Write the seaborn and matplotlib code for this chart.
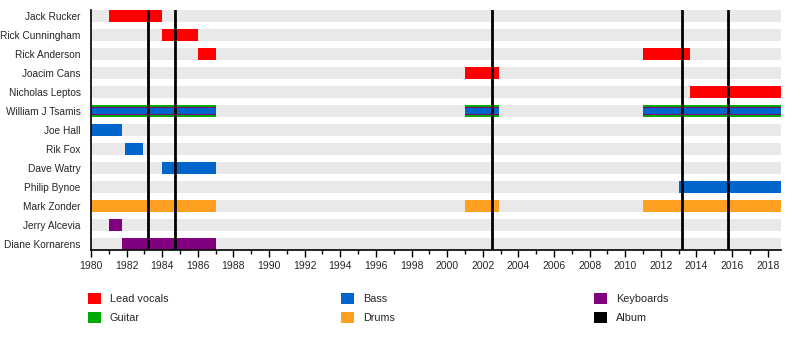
import matplotlib
matplotlib.use("Agg")
import matplotlib.pyplot as plt
import seaborn as sns
import pandas as pd
from matplotlib.patches import Patch

members = ["Jack Rucker", "Rick Cunningham", "Rick Anderson", "Joacim Cans",
           "Nicholas Leptos", "William J Tsamis", "Joe Hall", "Rik Fox",
           "Dave Watry", "Philip Bynoe", "Mark Zonder", "Jerry Alcevia",
           "Diane Kornarens"]

# (member, role, start, end)
seg_member = ["Jack Rucker", "Rick Cunningham", "Rick Anderson", "Rick Anderson",
              "Joacim Cans", "Nicholas Leptos",
              "William J Tsamis", "William J Tsamis", "William J Tsamis",
              "Joe Hall", "Rik Fox", "Dave Watry", "Philip Bynoe",
              "Mark Zonder", "Mark Zonder", "Mark Zonder",
              "Jerry Alcevia", "Diane Kornarens"]
seg_role = ["Lead vocals", "Lead vocals", "Lead vocals", "Lead vocals",
            "Lead vocals", "Lead vocals",
            "Guitar", "Guitar", "Guitar",
            "Bass", "Bass", "Bass", "Bass",
            "Drums", "Drums", "Drums",
            "Keyboards", "Keyboards"]
seg_start = [1981.0, 1984.0, 1986.0, 2011.0,
             2001.0, 2013.65,
             1980.0, 2001.0, 2011.0,
             1980.0, 1981.9, 1984.0, 2013.0,
             1980.0, 2001.0, 2011.0,
             1981.0, 1981.75]
seg_end = [1984.0, 1986.0, 1987.0, 2013.65,
           2002.9, 2018.75,
           1987.0, 2002.9, 2018.75,
           1981.75, 1982.9, 1987.0, 2018.75,
           1987.0, 2002.9, 2018.75,
           1981.75, 1987.0]

albums = [1983.2, 1984.7, 2002.5, 2013.2, 2015.8]

x_start, x_end = 1980, 2018.75

roles = ["Lead vocals", "Guitar", "Bass", "Drums", "Keyboards", "Album"]
role_colors = {"Lead vocals": "#ff0000", "Guitar": "#00aa00", "Bass": "#0066cc",
               "Drums": "#ffa020", "Keyboards": "#800080", "Album": "#000000"}

sns.set_theme(style="white")
plt.rcParams["font.family"] = ["Liberation Sans", "DejaVu Sans"]

fig = plt.figure(figsize=(8, 3.4), dpi=100)
ax = fig.add_axes([91/800, 1-250/340, 690/800, 240/340])

h = 0.64
bg = pd.DataFrame({"member": members, "end": [x_end]*len(members)})
sns.barplot(data=bg, y="member", x="end", orient="h", color="#e9e9e9",
            width=h, ax=ax, saturation=1, edgecolor="none")

ypos = {m: i for i, m in enumerate(members)}
segs = pd.DataFrame({"member": seg_member, "role": seg_role,
                     "start": seg_start, "end": seg_end})
for _, r in segs.iterrows():
    y = ypos[r.member]
    w = r.end - r.start
    ax.barh(y, w, left=r.start, height=h, color=role_colors[r.role],
            edgecolor="none", zorder=3)
    if r.member == "William J Tsamis":
        # stacked roles: keyboards and bass inside guitar
        ax.barh(y, w, left=r.start, height=h*0.68, color=role_colors["Keyboards"],
                edgecolor="none", zorder=4)
        ax.barh(y, w, left=r.start, height=h*0.48, color=role_colors["Bass"],
                edgecolor="none", zorder=5)

for a in albums:
    ax.axvline(a, color="black", lw=2, zorder=6)

ax.set_xlim(x_start, x_end)
ax.set_ylim(len(members) - 1 + h/2, -h/2)
ax.set_xticks(range(1980, 2019, 2))
ax.set_xticks(range(1981, 2019, 2), minor=True)
ax.tick_params(axis="x", which="major", direction="out", length=5, width=1,
               color="black", labelsize=7.5, pad=3, bottom=True)
ax.tick_params(axis="x", which="minor", direction="out", length=3, width=1,
               color="black", bottom=True)
ax.tick_params(axis="y", length=0, labelsize=7.3, pad=7.5)
ax.set_xlabel("")
ax.set_ylabel("")
for s in ["top", "right"]:
    ax.spines[s].set_visible(False)
for s in ["left", "bottom"]:
    ax.spines[s].set_color("black")
    ax.spines[s].set_linewidth(1.2)
    ax.spines[s].set_zorder(7)

cols = [["Lead vocals", "Guitar"], ["Bass", "Drums"], ["Keyboards", "Album"]]
col_x = [88/800, 341/800, 594/800]
for cx, names in zip(col_x, cols):
    handles = [Patch(facecolor=role_colors[n], edgecolor="none") for n in names]
    fig.legend(handles, names, loc="upper left", bbox_to_anchor=(cx, 1-292.5/340),
               frameon=False, fontsize=7.8, handlelength=1.2, handleheight=1.2,
               handletextpad=0.8, labelspacing=0.75, borderaxespad=0, borderpad=0)

fig.savefig("out.png", dpi=100)
